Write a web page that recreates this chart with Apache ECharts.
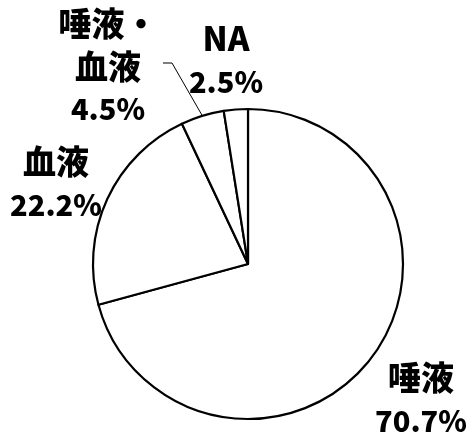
<!DOCTYPE html>
<html>
<head>
<meta charset="utf-8">
<script src="https://cdn.jsdelivr.net/npm/echarts@6/dist/echarts.min.js"></script>
<style>
  html, body { margin: 0; padding: 0; background: #ffffff; }
  #chart { width: 473px; height: 442px; }
</style>
</head>
<body>
<div id="chart"></div>
<script>
// Sample source categories and their shares (%)
const categories = ['唾液', '血液', '唾液・\n血液', 'NA'];
const shares = [70.7, 22.2, 4.5, 2.5];

// Label anchor (centre of each text block) in pixels
const labelSpots = [[421, 399], [56, 183], [108, 66], [226, 60]];
// Items that get a leader line, with its elbow relative to the label anchor
const leaderElbow = { 2: [[64, -3], [55, -3]] };

const chart = echarts.init(document.getElementById('chart'), null, { renderer: 'canvas' });

const seriesData = categories.map((name, i) => ({
  name: name,
  value: shares[i],
  labelLine: { show: i in leaderElbow }
}));

const labelFont = '"Noto Sans CJK JP", "Noto Sans", sans-serif';

chart.setOption({
  animation: false,
  backgroundColor: '#ffffff',
  series: [{
    type: 'pie',
    center: [248, 264],
    radius: 155,
    startAngle: 90,
    clockwise: true,
    data: seriesData,
    itemStyle: {
      color: '#ffffff',
      borderColor: '#000000',
      borderWidth: 2.2
    },
    label: {
      show: true,
      position: 'outside',
      overflow: 'none',
      color: '#000000',
      fontFamily: labelFont,
      fontWeight: 900,
      fontSize: 30,
      lineHeight: 43,
      align: 'center',
      formatter: p => p.name.split('\n').map(s => '{n|' + s + '}').join('\n') +
        '\n{v|' + p.value.toFixed(1) + '%}',
      rich: {
        n: { fontFamily: labelFont, fontWeight: 900, fontSize: 33, lineHeight: 43, color: '#000000' },
        v: { fontFamily: labelFont, fontWeight: 900, fontSize: 29, lineHeight: 43, color: '#000000' }
      }
    },
    labelLine: {
      lineStyle: { color: '#000000', width: 1 }
    },
    labelLayout: function (params) {
      const i = params.dataIndex;
      const spot = labelSpots[i];
      const out = { x: spot[0], y: spot[1], align: 'center', verticalAlign: 'middle', width: 140 };
      if (leaderElbow[i] && params.labelLinePoints) {
        const start = params.labelLinePoints[0];
        out.labelLinePoints = [start].concat(
          leaderElbow[i].map(d => [spot[0] + d[0], spot[1] + d[1]])
        );
      }
      return out;
    },
    emphasis: { disabled: true }
  }]
});
</script>
</body>
</html>
